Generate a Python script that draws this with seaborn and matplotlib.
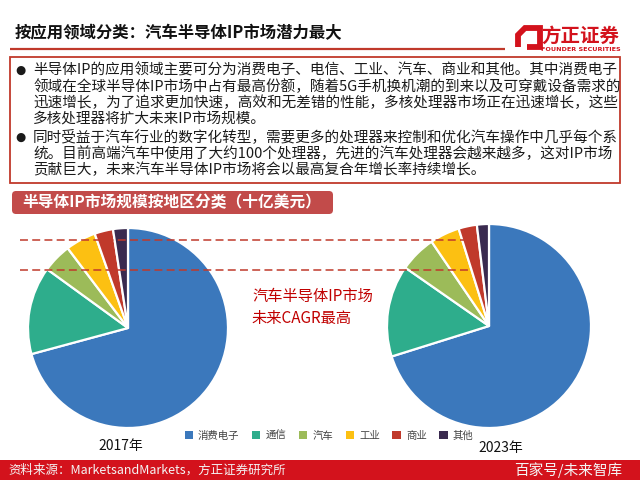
import matplotlib
matplotlib.use("Agg")
import matplotlib.pyplot as plt
from matplotlib.patches import Rectangle, FancyBboxPatch, Patch, Polygon
import seaborn as sns

# ---------------- data ----------------
categories = ['消费电子', '通信', '汽车', '工业', '商业', '其他']
share_2017 = [70.8, 14.2, 4.7, 4.9, 3.0, 2.4]
share_2023 = [70.1, 14.5, 5.8, 4.7, 2.9, 1.9]
years = ['2017年', '2023年']

title = '按应用领域分类：汽车半导体IP市场潜力最大'
chart_title = '半导体IP市场规模按地区分类（十亿美元）'
note_lines = ['汽车半导体IP市场', '未来CAGR最高']
body_lines = [
    '半导体IP的应用领域主要可分为消费电子、电信、工业、汽车、商业和其他。其中消费电子',
    '领域在全球半导体IP市场中占有最高份额，随着5G手机换机潮的到来以及可穿戴设备需求的',
    '迅速增长，为了追求更加快速，高效和无差错的性能，多核处理器市场正在迅速增长，这些',
    '多核处理器将扩大未来IP市场规模。',
    '同时受益于汽车行业的数字化转型，需要更多的处理器来控制和优化汽车操作中几乎每个系',
    '统。目前高端汽车中使用了大约100个处理器，先进的汽车处理器会越来越多，这对IP市场',
    '贡献巨大，未来汽车半导体IP市场将会以最高复合年增长率持续增长。',
]
source_text = '资料来源：MarketsandMarkets，方正证券研究所'
watermark = '百家号/未来智库'

# ---------------- style ----------------
sns.set_theme(style='white')
plt.rcParams['font.family'] = ['Noto Sans CJK SC', 'DejaVu Sans']
palette = sns.color_palette(['#3B78BC', '#2EAD8C', '#9CBB59', '#FCC012', '#C0392B', '#3A2A4F'])
RED = '#C0392B'
BRIGHT = '#D3121C'

W, H = 640, 480
fig = plt.figure(figsize=(6.4, 4.8), dpi=100)
fig.patch.set_facecolor('white')

def px_axes(x0, y0, w, h):
    return fig.add_axes([x0 / W, 1 - (y0 + h) / H, w / W, h / H])

# ---------------- pies ----------------
for (x0, y0, size), vals in zip([(28, 228, 200), (387, 224, 204)], [share_2017, share_2023]):
    ax = px_axes(x0, y0, size, size)
    ax.pie(vals, colors=palette, startangle=90, counterclock=False,
           wedgeprops=dict(edgecolor='white', linewidth=1.6))
    ax.set_xlim(-1.0, 1.0)
    ax.set_ylim(-1.0, 1.0)
    ax.set_aspect('equal')
    ax.axis('off')

# ---------------- overlay ----------------
ov = fig.add_axes([0, 0, 1, 1], zorder=10)
ov.set_xlim(0, W)
ov.set_ylim(H, 0)
ov.axis('off')
ov.patch.set_visible(False)

# header
ov.text(15, 33, title, fontsize=11.8, fontweight='bold', color='#111111', va='center', ha='left')
ov.plot([10, 505], [48.5, 48.5], color=RED, lw=1.6, solid_capstyle='butt')
# logo
ov.add_patch(Polygon([[518, 47], [518, 35], [525, 28], [540, 28], [540, 47], [527, 47]],
                     closed=False, fill=False, edgecolor=BRIGHT, lw=4.2, joinstyle='miter'))
ov.text(580, 36.5, '方正证券', fontsize=14, fontweight='bold', color=BRIGHT, ha='center', va='center')
ov.text(581, 49.5, 'FOUNDER SECURITIES', fontsize=4.6, fontweight='bold', color=BRIGHT,
        ha='center', va='center', family='DejaVu Sans')

# text box
ov.add_patch(Rectangle((10, 57), 610, 126, fill=False, edgecolor=RED, lw=1.3))
ys = [70, 86.5, 102.5, 118.5, 137, 153.5, 170]
for y, line in zip(ys, body_lines):
    ov.text(33, y, line, fontsize=10.5, color='#1a1a1a', va='center', ha='left')
for y in (70, 137):
    ov.text(15, y, '●', fontsize=8.5, color='#1a1a1a', va='center', ha='left', family='DejaVu Sans')

# chart banner
ov.add_patch(FancyBboxPatch((12, 191), 321, 23, boxstyle='round,pad=0,rounding_size=4',
                            facecolor='#C24B4A', edgecolor='none'))
ov.text(22, 202.5, chart_title, fontsize=11.3, fontweight='bold', color='white', va='center', ha='left')

# dashed guide lines
for y in (240, 269.5):
    ov.plot([20, 468], [y, y], color=RED, lw=1.1, linestyle=(0, (5.2, 2.8)))

# annotation
ov.text(252, 296, note_lines[0], fontsize=11, color='#C00000', va='center', ha='left')
ov.text(252, 318, note_lines[1], fontsize=11, color='#C00000', va='center', ha='left')

# year labels
ov.text(121, 446, years[0], fontsize=10, color='#111111', ha='center', va='center')
ov.text(501, 448, years[1], fontsize=10, color='#111111', ha='center', va='center')

# legend
handles = [Patch(facecolor=c, edgecolor='none') for c in palette]
fig.legend(handles, categories, loc='center', bbox_to_anchor=(329 / W, 1 - 436 / H), ncol=6,
           frameon=False, fontsize=7.5, handlelength=0.8, handleheight=0.8, handletextpad=0.5,
           columnspacing=1.2, labelcolor='#444444')

# bottom band
ov.add_patch(Rectangle((0, 460), W, 20, facecolor=BRIGHT, edgecolor='none'))
ov.text(8, 470, source_text, fontsize=9, color='#F4F4F4', va='center', ha='left')
ov.text(514, 470, watermark, fontsize=10.5, color='#F4F4F4', va='center', ha='left')

fig.savefig('out.png', dpi=100)
